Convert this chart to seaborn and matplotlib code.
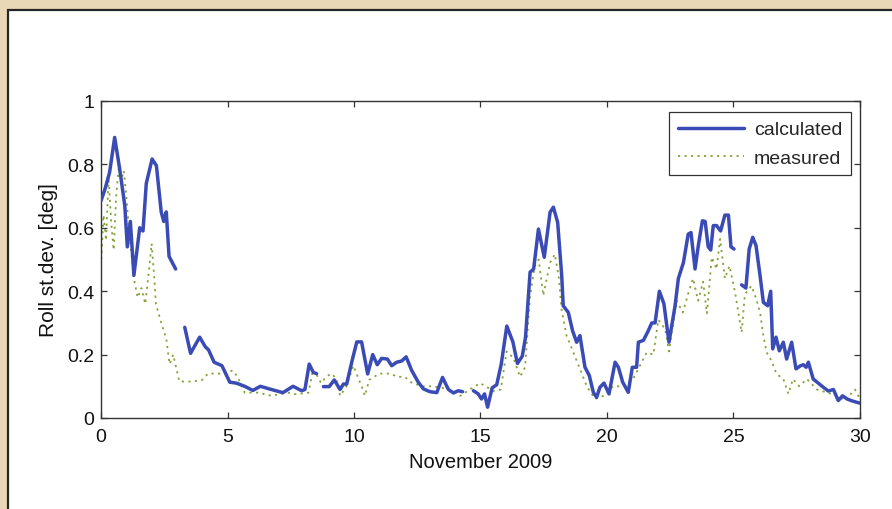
import numpy as np
import pandas as pd
import matplotlib
matplotlib.use("Agg")
import matplotlib.pyplot as plt
from matplotlib.lines import Line2D
from matplotlib.patches import Rectangle
import seaborn as sns

# Roll standard deviation, November 2009 (day of month vs. degrees)
# NaN marks a break in the calculated record
calc_day = [0.0, 0.15, 0.34, 0.54, 0.74, 0.94, 1.04, 1.16, 1.30, 1.53, 1.66, 1.79, 2.02, 2.19,
            2.38, 2.48, 2.58, 2.69, 2.95, 3.1, 3.31, 3.54, 3.90, 4.12, 4.25, 4.47, 4.78, 5.09,
            5.35, 5.68, 6.0, 6.30, 6.73, 7.19, 7.59, 7.93, 8.06, 8.23, 8.39, 8.52, 8.65, 8.79,
            9.02, 9.22, 9.45, 9.58, 9.71, 9.91, 10.11, 10.30, 10.54, 10.74, 10.92, 11.09, 11.32,
            11.49, 11.69, 11.89, 12.06, 12.28, 12.54, 12.74, 13.0, 13.27, 13.5, 13.73, 13.93,
            14.12, 14.29, 14.5, 14.72, 14.91, 15.04, 15.16, 15.28, 15.46, 15.64, 15.82, 16.04,
            16.28, 16.46, 16.65, 16.78, 16.96, 17.1, 17.29, 17.52, 17.75, 17.88, 18.05, 18.21,
            18.27, 18.47, 18.64, 18.80, 18.93, 19.13, 19.30, 19.46, 19.59, 19.72, 19.88, 20.08,
            20.32, 20.45, 20.62, 20.84, 21.0, 21.17, 21.24, 21.44, 21.63, 21.77, 21.9, 22.07,
            22.25, 22.45, 22.69, 22.82, 23.02, 23.21, 23.32, 23.48, 23.61, 23.77, 23.88, 24.0,
            24.1, 24.2, 24.33, 24.49, 24.66, 24.8, 24.9, 25.02, 25.17, 25.32, 25.49, 25.62,
            25.76, 25.89, 26.05, 26.18, 26.35, 26.47, 26.55, 26.68, 26.81, 26.97, 27.1, 27.3,
            27.47, 27.65, 27.76, 27.87, 27.96, 28.15, 28.35, 28.55, 28.75, 28.95, 29.14, 29.31,
            29.49, 29.65, 29.85, 30.0]
calc_roll = [0.685, 0.72, 0.775, 0.885, 0.785, 0.67, 0.54, 0.62, 0.45, 0.60, 0.59, 0.74, 0.817,
             0.796, 0.65, 0.62, 0.65, 0.51, 0.47, np.nan, 0.286, 0.204, 0.255, 0.225, 0.215,
             0.176, 0.165, 0.113, 0.11, 0.10, 0.087, 0.10, 0.09, 0.08, 0.10, 0.086, 0.09, 0.17,
             0.144, 0.14, np.nan, 0.099, 0.099, 0.12, 0.09, 0.107, 0.107, 0.176, 0.24, 0.24,
             0.139, 0.20, 0.168, 0.188, 0.186, 0.165, 0.176, 0.18, 0.193, 0.15, 0.113, 0.092,
             0.083, 0.08, 0.128, 0.09, 0.079, 0.086, 0.083, np.nan, 0.086, 0.076, 0.06, 0.076,
             0.034, 0.095, 0.105, 0.17, 0.29, 0.24, 0.172, 0.195, 0.255, 0.46, 0.47, 0.596,
             0.507, 0.649, 0.665, 0.617, 0.449, 0.354, 0.333, 0.275, 0.239, 0.26, 0.16, 0.134,
             0.081, 0.065, 0.097, 0.11, 0.076, 0.176, 0.16, 0.113, 0.081, 0.16, 0.16, 0.239,
             0.245, 0.275, 0.30, 0.30, 0.40, 0.36, 0.239, 0.354, 0.44, 0.49, 0.58, 0.585, 0.47,
             0.544, 0.622, 0.62, 0.54, 0.53, 0.607, 0.607, 0.59, 0.64, 0.64, 0.54, 0.533, np.nan,
             0.42, 0.41, 0.533, 0.57, 0.544, 0.449, 0.365, 0.354, 0.40, 0.218, 0.255, 0.212,
             0.239, 0.186, 0.239, 0.155, 0.165, 0.168, 0.16, 0.176, 0.123, 0.11, 0.097, 0.085,
             0.09, 0.055, 0.07, 0.06, 0.055, 0.05, 0.047]

meas_day = [0.0, 0.1, 0.2, 0.3, 0.4, 0.5, 0.6, 0.7, 0.8, 0.9, 1.0, 1.1, 1.2, 1.3, 1.45, 1.6,
            1.75, 1.9, 2.0, 2.1, 2.17, 2.38, 2.58, 2.71, 2.85, 3.1, 3.57, 4.0, 4.23, 4.56, 4.9,
            5.2, 5.4, 5.68, 6.2, 6.73, 7.05, 7.4, 7.7, 8.2, 8.35, 8.5, 8.7, 8.9, 9.1, 9.3, 9.45,
            9.7, 9.97, 10.1, 10.3, 10.43, 10.6, 11.0, 11.4, 11.74, 12.0, 12.3, 12.74, 13.1, 13.5,
            13.9, 14.2, 14.58, 14.98, 15.2, 15.5, 15.8, 16.03, 16.3, 16.56, 16.76, 16.96, 17.15,
            17.3, 17.48, 17.75, 17.94, 18.1, 18.2, 18.40, 18.67, 18.93, 19.2, 19.53, 19.86,
            20.24, 20.63, 21.03, 21.3, 21.57, 21.83, 22.03, 22.3, 22.45, 22.75, 23.0, 23.2, 23.4,
            23.6, 23.8, 23.95, 24.14, 24.33, 24.47, 24.66, 24.84, 25.06, 25.19, 25.32, 25.45,
            25.71, 25.9, 26.05, 26.18, 26.31, 26.5, 26.7, 26.97, 27.17, 27.35, 27.6, 27.9, 28.3,
            28.7, 29.1, 29.4, 29.8, 30.0]
meas_roll = [0.48, 0.64, 0.56, 0.76, 0.62, 0.53, 0.70, 0.79, 0.75, 0.78, 0.70, 0.60, 0.52, 0.44,
             0.38, 0.41, 0.36, 0.47, 0.55, 0.45, 0.36, 0.30, 0.25, 0.17, 0.20, 0.115, 0.115,
             0.12, 0.14, 0.14, 0.14, 0.15, 0.13, 0.08, 0.08, 0.07, 0.075, 0.08, 0.075, 0.08,
             0.14, 0.14, 0.11, 0.13, 0.14, 0.125, 0.07, 0.10, 0.165, 0.14, 0.10, 0.07, 0.12,
             0.14, 0.14, 0.13, 0.13, 0.11, 0.10, 0.10, 0.095, 0.085, 0.07, 0.09, 0.11, 0.10,
             0.085, 0.09, 0.21, 0.19, 0.13, 0.16, 0.386, 0.48, 0.50, 0.386, 0.49, 0.517, 0.44,
             0.344, 0.26, 0.207, 0.155, 0.10, 0.06, 0.07, 0.10, 0.10, 0.123, 0.165, 0.207, 0.20,
             0.31, 0.28, 0.21, 0.37, 0.333, 0.39, 0.44, 0.37, 0.43, 0.33, 0.507, 0.47, 0.565,
             0.44, 0.48, 0.397, 0.333, 0.27, 0.39, 0.417, 0.375, 0.333, 0.26, 0.207, 0.18,
             0.139, 0.123, 0.076, 0.123, 0.10, 0.123, 0.09, 0.08, 0.07, 0.055, 0.09, 0.06]

x_ticks = [0, 5, 10, 15, 20, 25, 30]
y_ticks = [0, 0.2, 0.4, 0.6, 0.8, 1]
y_tick_labels = ["0", "0.2", "0.4", "0.6", "0.8", "1"]

CALC_COLOR = "#3a4bb5"
MEAS_COLOR = "#86a33a"
TEXT_SIZE = 14

sns.set_style("white")
plt.rcParams["font.family"] = ["Liberation Sans", "DejaVu Sans"]

fig = plt.figure(figsize=(8.92, 5.10), dpi=100, facecolor="#e9d8b6")
fig.patches.append(Rectangle((8 / 892, -0.1), 1.2, 1.1 - 11 / 510,
                             transform=fig.transFigure, facecolor="white",
                             edgecolor="#262626", linewidth=1.6, zorder=-10))
ax = fig.add_axes([101 / 892, 1 - 419 / 510, 759 / 892, 317 / 510])
ax.set_facecolor("white")

calc = pd.DataFrame({"day": calc_day, "roll": calc_roll})
calc["segment"] = calc["roll"].isna().cumsum()
calc = calc.dropna()
meas = pd.DataFrame({"day": meas_day, "roll": meas_roll})

sns.lineplot(data=meas, x="day", y="roll", ax=ax, color=MEAS_COLOR, linewidth=1.3,
             linestyle=(0, (1.2, 2.4)), estimator=None, sort=False, zorder=2)
sns.lineplot(data=calc, x="day", y="roll", units="segment", estimator=None, sort=False,
             ax=ax, color=CALC_COLOR, linewidth=2.5, zorder=3)

ax.set_xlim(0, 30)
ax.set_ylim(0, 1)
ax.set_xticks(x_ticks)
ax.set_xticklabels([str(t) for t in x_ticks])
ax.set_yticks(y_ticks)
ax.set_yticklabels(y_tick_labels)
ax.tick_params(direction="in", length=4, width=0.9, color="#333333", labelsize=TEXT_SIZE,
               top=True, right=True, bottom=True, left=True, labelcolor="#111111")
ax.tick_params(axis="x", pad=7)
ax.tick_params(axis="y", pad=5)
for side in ax.spines.values():
    side.set_visible(True)
    side.set_color("#333333")
    side.set_linewidth(1.0)

ax.set_xlabel("November 2009", fontsize=TEXT_SIZE + 0.5, labelpad=5, color="#111111")
ax.set_ylabel("Roll st.dev. [deg]", fontsize=TEXT_SIZE + 1, labelpad=6, color="#111111")

handles = [Line2D([], [], color=CALC_COLOR, linewidth=2.5),
           Line2D([], [], color=MEAS_COLOR, linewidth=1.3, linestyle=(0, (1.2, 2.4)))]
leg = ax.legend(handles, ["calculated", "measured"], loc="upper right",
                bbox_to_anchor=(1 - 9 / 759, 1 - 11 / 317), borderaxespad=0,
                fontsize=TEXT_SIZE, frameon=True, fancybox=False, framealpha=1,
                edgecolor="#333333", handlelength=3.4, handletextpad=0.5,
                labelspacing=0.55, borderpad=0.45)
leg.get_frame().set_linewidth(0.9)

fig.savefig("out.png", dpi=100, facecolor=fig.get_facecolor())
